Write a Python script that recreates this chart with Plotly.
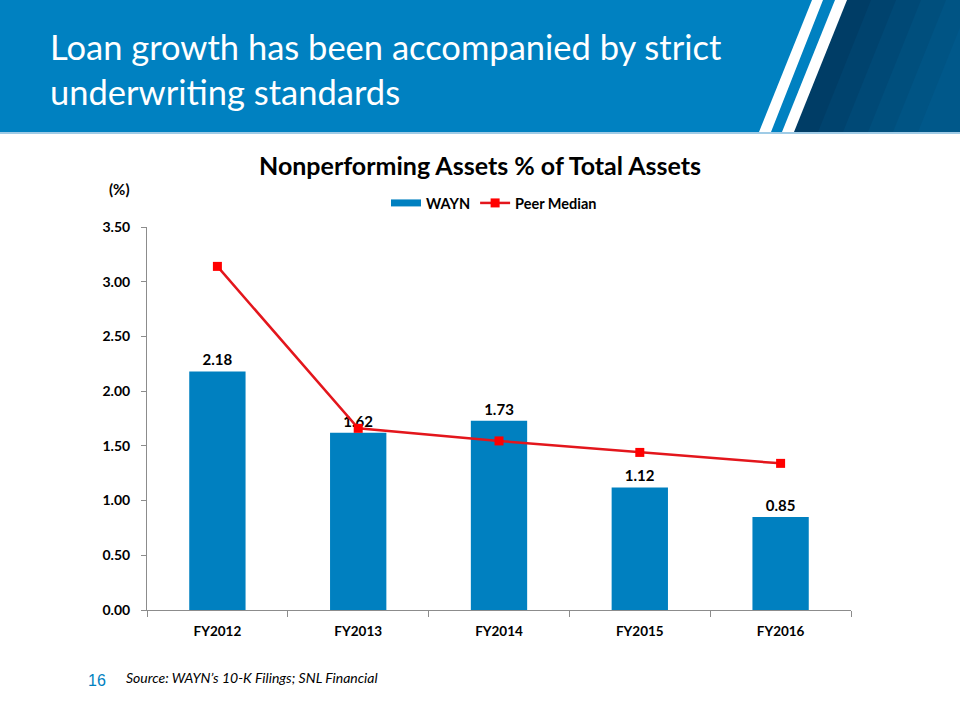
import plotly.graph_objects as go

categories = ["FY2012", "FY2013", "FY2014", "FY2015", "FY2016"]
wayn_values = [2.18, 1.62, 1.73, 1.12, 0.85]
peer_median = [3.14, 1.66, 1.545, 1.44, 1.34]
y_tick_vals = [0, 0.5, 1.0, 1.5, 2.0, 2.5, 3.0, 3.5]
y_tick_text = ["0.00", "0.50", "1.00", "1.50", "2.00", "2.50", "3.00", "3.50"]

W, H = 960, 720
L, R, T, B = 147, 851, 227, 610

def px(x):
    return (x - L) / (R - L)

def py(y):
    return (B - y) / (B - T)

FONT = "Lato"
BLUE = "#0080C0"

fig = go.Figure()
fig.add_trace(go.Bar(
    x=categories, y=wayn_values, name="WAYN", showlegend=False,
    marker=dict(color=BLUE, line=dict(width=0)),
    text=[f"{v:.2f}" for v in wayn_values], textposition="outside",
    textfont=dict(family=FONT, size=15, color="#000000", weight="bold"),
    cliponaxis=False,
))
# legend entry for the bars (wide rectangle swatch)
fig.add_trace(go.Scatter(
    x=[None], y=[None], name="WAYN", mode="lines",
    line=dict(color=BLUE, width=7), showlegend=True,
))
fig.add_trace(go.Scatter(
    x=categories, y=peer_median, name="Peer Median", mode="lines+markers",
    line=dict(color="#E3161C", width=2.5),
    marker=dict(symbol="square", size=9, color="#FF0000"),
    cliponaxis=False,
))

shapes = []
shapes.append(dict(type="rect", xref="paper", yref="paper", x0=px(0), x1=px(960), y0=py(132), y1=py(0),
                   fillcolor="#0081C1", line=dict(width=0), layer="below"))
dark_cols = ["#003D66", "#00436E", "#004976", "#004F7D", "#005484", "#00588A"]
x_top0, x_bot0 = 846, 793
for i, c in enumerate(dark_cols):
    off = i * 25
    shapes.append(dict(type="path", xref="paper", yref="paper",
                       path=f"M {px(x_top0+off)} {py(0)} L {px(960)} {py(0)} L {px(960)} {py(132)} L {px(x_bot0+off)} {py(132)} Z",
                       fillcolor=c, line=dict(width=0), layer="below"))
for (t0, t1, b0, b1) in [(812, 823, 759, 771), (835, 847, 782, 794)]:
    shapes.append(dict(type="path", xref="paper", yref="paper",
                       path=f"M {px(t0)} {py(0)} L {px(t1)} {py(0)} L {px(b1)} {py(132)} L {px(b0)} {py(132)} Z",
                       fillcolor="#FFFFFF", line=dict(width=0), layer="below"))
shapes.append(dict(type="rect", xref="paper", yref="paper", x0=px(0), x1=px(960), y0=py(134), y1=py(132),
                   fillcolor="#9FCBE6", line=dict(width=0), layer="below"))

annotations = [
    dict(text="Loan growth has been accompanied by strict<br>underwriting standards",
         xref="paper", yref="paper", x=px(48), y=py(24), xanchor="left", yanchor="top",
         showarrow=False, align="left",
         font=dict(family=FONT, size=34.5, color="#FFFFFF")),
    dict(text="<b>Nonperforming Assets % of Total Assets</b>", xref="paper", yref="paper",
         x=px(480), y=py(165), xanchor="center", yanchor="middle", showarrow=False,
         font=dict(family=FONT, size=25, color="#000000")),
    dict(text="<b>(%)</b>", xref="paper", yref="paper", x=px(119), y=py(189),
         xanchor="center", yanchor="middle", showarrow=False,
         font=dict(family=FONT, size=15, color="#000000")),
    dict(text="<i>Source: WAYN’s 10-K Filings; SNL Financial</i>", xref="paper", yref="paper",
         x=px(124), y=py(677), xanchor="left", yanchor="middle", showarrow=False,
         font=dict(family=FONT, size=14, color="#000000")),
    dict(text="16", xref="paper", yref="paper", x=px(97), y=py(680),
         xanchor="center", yanchor="middle", showarrow=False,
         font=dict(family="Liberation Sans", size=16, color="#0081C1")),
]

fig.update_layout(
    width=W, height=H,
    margin=dict(l=L, r=W - R, t=T, b=H - B, pad=0),
    paper_bgcolor="#FFFFFF", plot_bgcolor="#FFFFFF",
    bargap=0.6,
    showlegend=True,
    legend=dict(orientation="h", x=px(386), y=py(203), xanchor="left", yanchor="middle",
                font=dict(family=FONT, size=14.5, color="#000000", weight="bold"),
                bgcolor="rgba(0,0,0,0)", itemwidth=30, tracegroupgap=0),
    shapes=shapes,
    annotations=annotations,
    font=dict(family=FONT),
)
fig.update_xaxes(
    type="category", showgrid=False, showline=True, linecolor="#8C8C8C", linewidth=1,
    ticks="outside", tickson="boundaries", ticklen=6, tickcolor="#8C8C8C",
    tickfont=dict(family=FONT, size=13.5, color="#000000", weight="bold"),
    ticklabelstandoff=9,
    fixedrange=True,
)
fig.update_yaxes(
    range=[0, 3.5], tickvals=y_tick_vals, ticktext=y_tick_text, showgrid=False, zeroline=False,
    showline=True, linecolor="#8C8C8C", linewidth=1, ticks="outside", ticklen=5, tickcolor="#8C8C8C",
    tickfont=dict(family=FONT, size=14, color="#000000", weight="bold"),
    ticklabelstandoff=8,
    fixedrange=True,
)

fig.write_html("out.html", config={"displayModeBar": False},
               post_script="document.body.style.margin='0';document.body.style.padding='0';")
